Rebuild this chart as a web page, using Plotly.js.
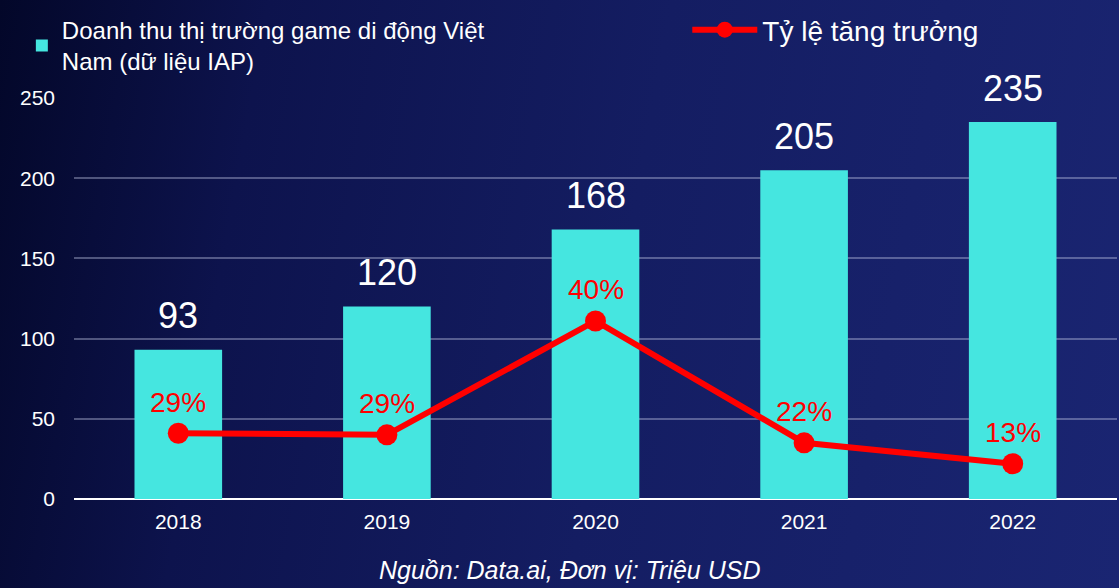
<!DOCTYPE html>
<html>
<head>
<meta charset="utf-8">
<script src="https://cdn.plot.ly/plotly-3.0.1.min.js"></script>
<style>
  html, body { margin: 0; padding: 0; }
  body {
    width: 1119px; height: 588px; overflow: hidden;
    background: linear-gradient(100deg, #030729 0%, #0d134d 22%, #141d62 55%, #1a2572 100%);
  }
  #chart { width: 1119px; height: 588px; }
</style>
</head>
<body>
<div id="chart"></div>
<script>
const years = ['2018', '2019', '2020', '2021', '2022'];
const revenue = [93, 120, 168, 205, 235];
const growthLabels = ['29%', '29%', '40%', '22%', '13%'];
const growthLevel = [41, 40, 111, 35, 22];
const yTicks = [0, 50, 100, 150, 200, 250];

const FONT = 'Liberation Sans, Arial, sans-serif';

const barTrace = {
  type: 'bar',
  x: years,
  y: revenue,
  name: 'Doanh thu thị trường game di động Việt<br>Nam (dữ liệu IAP)',
  marker: { color: '#45E6E0' },
  legend: 'legend',
  hoverinfo: 'skip'
};

const lineTrace = {
  type: 'scatter',
  mode: 'lines+markers',
  x: years,
  y: growthLevel,
  name: 'Tỷ lệ tăng trưởng',
  line: { color: '#FF0000', width: 6 },
  marker: { color: '#FF0000', size: 21 },
  legend: 'legend2',
  hoverinfo: 'skip'
};

const annotations = [];
years.forEach((yr, i) => {
  annotations.push({
    x: i, y: revenue[i], xref: 'x', yref: 'y',
    text: String(revenue[i]), showarrow: false,
    yanchor: 'middle', yshift: 34,
    font: { family: FONT, size: 36, color: '#FFFFFF' }
  });
  annotations.push({
    x: i, y: growthLevel[i], xref: 'x', yref: 'y',
    text: growthLabels[i], showarrow: false,
    yanchor: 'middle', yshift: 31,
    font: { family: FONT, size: 28, color: '#FF0000' }
  });
});
annotations.push({
  xref: 'paper', yref: 'paper', x: 0.4755, y: -0.177,
  text: 'Nguồn: Data.ai, Đơn vị: Triệu USD', showarrow: false,
  xanchor: 'center', yanchor: 'middle',
  font: { family: FONT, size: 25, color: '#FFFFFF', style: 'italic' }
});

const layout = {
  width: 1119, height: 588,
  margin: { l: 74, r: 2, t: 98, b: 89 },
  paper_bgcolor: 'rgba(0,0,0,0)',
  plot_bgcolor: 'rgba(0,0,0,0)',
  font: { family: FONT, color: '#FFFFFF' },
  bargap: 0.58,
  xaxis: {
    type: 'category',
    range: [-0.5, 4.5],
    tickfont: { family: FONT, size: 21, color: '#FFFFFF' },
    ticks: '', showgrid: false, zeroline: false,
    showline: false, ticklabelstandoff: 8, fixedrange: true
  },
  yaxis: {
    range: [0, 250],
    tickvals: yTicks,
    tickfont: { family: FONT, size: 21, color: '#FFFFFF' },
    showgrid: true, gridcolor: 'rgba(200,205,235,0.38)', gridwidth: 2,
    zeroline: true, zerolinecolor: '#FFFFFF', zerolinewidth: 2,
    ticks: '', ticklabelstandoff: 18, fixedrange: true
  },
  showlegend: true,
  legend: {
    x: -0.05, y: 1.225, xanchor: 'left', yanchor: 'top',
    bgcolor: 'rgba(0,0,0,0)',
    font: { family: FONT, size: 24, color: '#FFFFFF' },
    itemwidth: 30
  },
  legend2: {
    x: 0.588, y: 1.232, xanchor: 'left', yanchor: 'top',
    bgcolor: 'rgba(0,0,0,0)',
    font: { family: FONT, size: 28, color: '#FFFFFF' },
    itemwidth: 65
  },
  annotations: annotations
};

Plotly.newPlot('chart', [barTrace, lineTrace], layout, { displayModeBar: false, staticPlot: true });
</script>
</body>
</html>
